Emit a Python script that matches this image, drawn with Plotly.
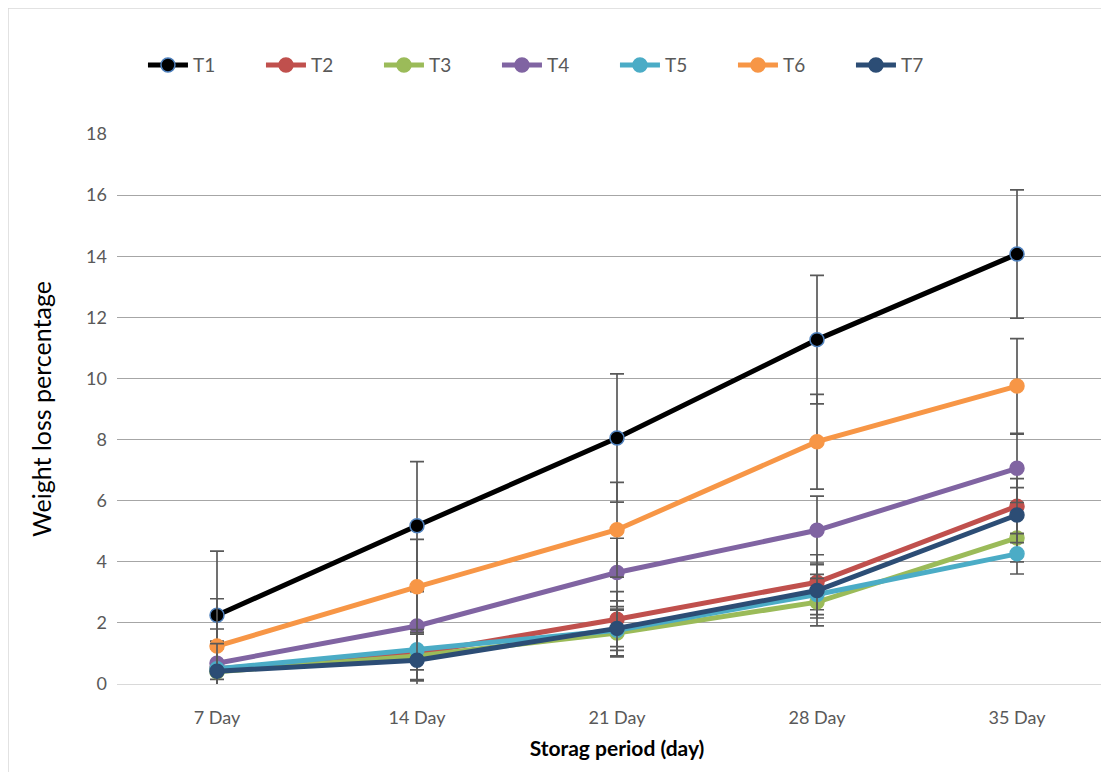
import plotly.graph_objects as go

categories = ["7 Day", "14 Day", "21 Day", "28 Day", "35 Day"]
series_names = ["T1", "T2", "T3", "T4", "T5", "T6", "T7"]

T1 = [2.25, 5.18, 8.05, 11.27, 14.07]
T2 = [0.5, 1.0, 2.12, 3.33, 5.82]
T3 = [0.4, 0.92, 1.67, 2.68, 4.78]
T4 = [0.68, 1.9, 3.65, 5.03, 7.06]
T5 = [0.5, 1.12, 1.76, 2.93, 4.26]
T6 = [1.24, 3.18, 5.05, 7.93, 9.75]
T7 = [0.42, 0.78, 1.82, 3.06, 5.53]

err_T1 = [2.1, 2.1, 2.1, 2.1, 2.1]
err_T2 = [0.9, 0.9, 0.9, 0.9, 0.9]
err_T3 = [0.78, 0.78, 0.78, 0.78, 0.78]
err_T4 = [1.12, 1.12, 1.12, 1.12, 1.12]
err_T5 = [0.66, 0.66, 0.66, 0.66, 0.66]
err_T6 = [1.55, 1.55, 1.55, 1.55, 1.55]
err_T7 = [0.9, 0.9, 0.9, 0.9, 0.9]

values = [T1, T2, T3, T4, T5, T6, T7]
errors = [err_T1, err_T2, err_T3, err_T4, err_T5, err_T6, err_T7]
colors = ["#000000", "#C0504D", "#9BBB59", "#8064A2", "#4BACC6", "#F79646", "#2C4D75"]
marker_lines = ["#4F81BD", None, None, None, None, None, None]

FONT = "Lato, 'Open Sans', sans-serif"

fig = go.Figure()
for name, vals, errs, col, ml in zip(series_names, values, errors, colors, marker_lines):
    fig.add_trace(go.Scatter(
        x=categories, y=vals, name=name, mode="lines+markers",
        line=dict(color=col, width=5),
        marker=dict(size=14, color=col,
                    line=dict(color=ml if ml else col, width=1.5)),
        error_y=dict(type="data", array=errs, visible=True,
                     color="#595959", thickness=1.7, width=7),
    ))

fig.update_layout(
    width=1109, height=772,
    paper_bgcolor="white", plot_bgcolor="white",
    margin=dict(l=109, r=0, t=126, b=96, autoexpand=False),
    font=dict(family=FONT, color="#595959", size=18),
    showlegend=True,
    legend=dict(orientation="h", xref="container", yref="container",
                x=0.1217, y=0.926, xanchor="left", yanchor="middle",
                entrywidth=63, entrywidthmode="pixels",
                font=dict(size=19, color="#595959", family=FONT),
                itemwidth=40, bgcolor="rgba(0,0,0,0)"),
    xaxis=dict(
        type="category", range=[-0.5, 4.5], automargin=False,
        showgrid=False, showline=True, linecolor="#D9D9D9", linewidth=1,
        ticks="", tickfont=dict(size=18, color="#595959"), ticklabelstandoff=17,
        title=dict(text="<b>Storag period (day)</b>",
                   font=dict(size=21, color="#000000", family=FONT), standoff=14),
    ),
    yaxis=dict(
        range=[0, 18], dtick=2, showgrid=True, gridcolor="#A6A6A6", gridwidth=1.3,
        zeroline=False, showline=False, ticks="", automargin=False,
        tickfont=dict(size=18, color="#595959"), ticklabelstandoff=9,
        title=dict(text="Weight loss percentage",
                   font=dict(size=25, color="#000000", family=FONT), standoff=27),
    ),
    shapes=[
        dict(type="line", xref="paper", yref="paper",
             x0=-109 / 1000, x1=-109 / 1000,
             y0=676 / 550, y1=-0.2,
             line=dict(color="#D9D9D9", width=1.5)),
        dict(type="line", xref="paper", yref="paper",
             x0=-109 / 1000, x1=1.05,
             y0=676 / 550, y1=676 / 550,
             line=dict(color="#D9D9D9", width=1.5)),
    ],
)

fig.write_html("out.html")
